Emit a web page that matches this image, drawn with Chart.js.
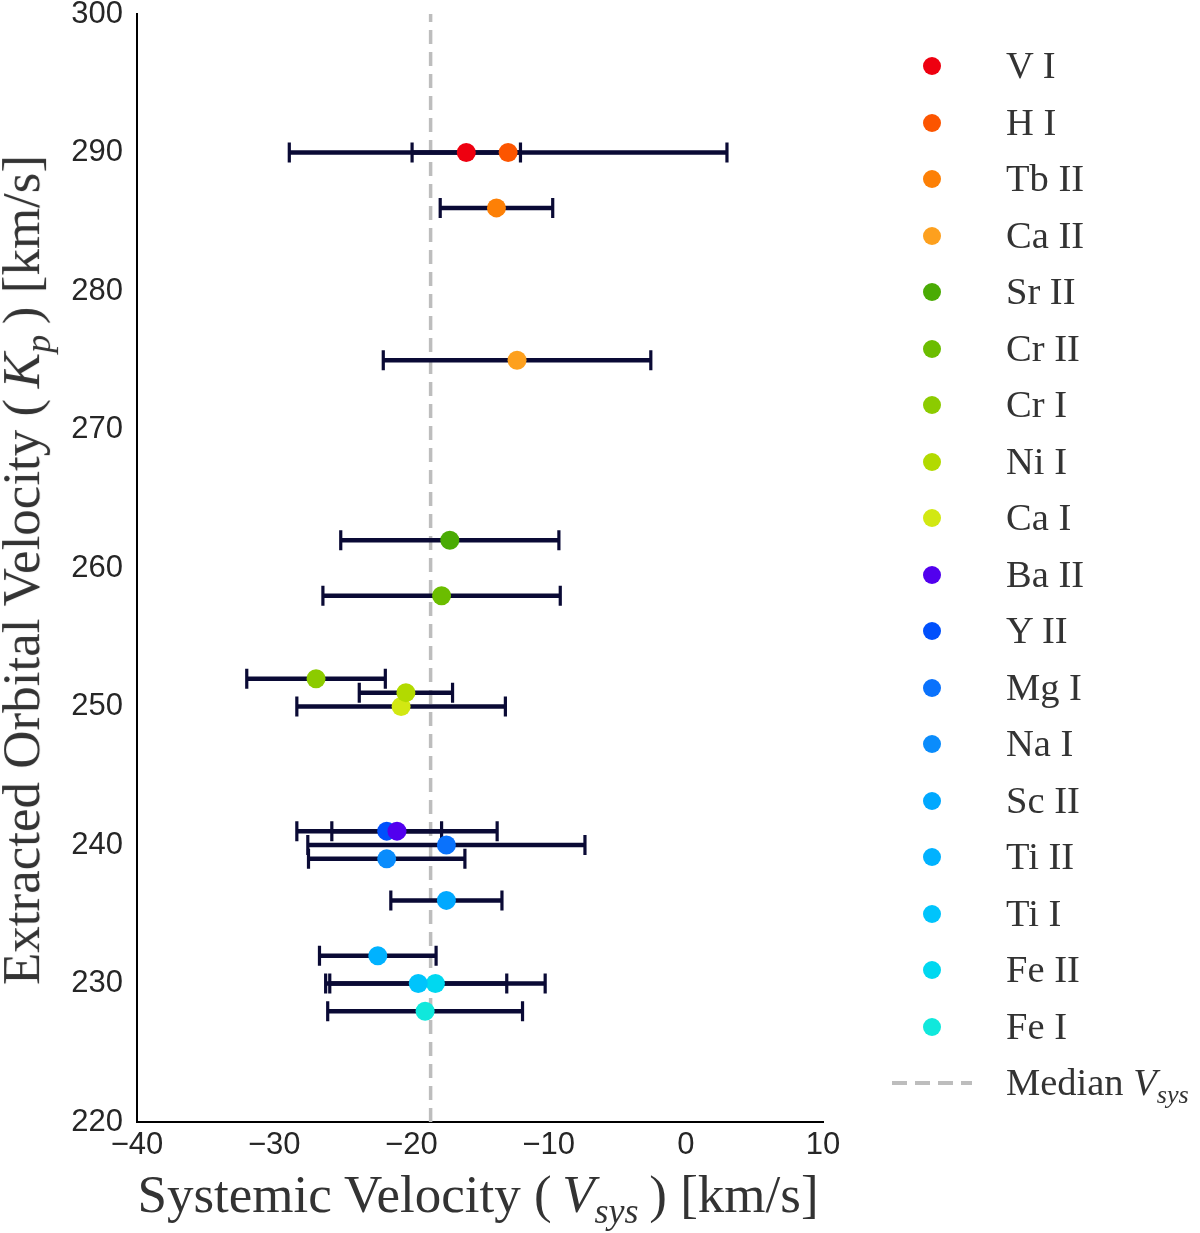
<!DOCTYPE html>
<html>
<head>
<meta charset="utf-8">
<script src="https://cdn.jsdelivr.net/npm/chart.js@4.4.0/dist/chart.umd.min.js"></script>
<style>
  body { margin: 0; background: #fff; }
  #wrap { position: relative; width: 1200px; height: 1233px; }
  .title { position: absolute; font-family: 'Liberation Serif', serif; font-size: 53px; color: #333; white-space: nowrap; }
  .title sub { font-size: 0.68em; font-style: italic; vertical-align: -0.3em; }
  #xtitle { left: 478px; top: 1198px; transform: translate(-50%, -50%); }
  #ytitle { left: 25px; top: 570px; transform: translate(-50%, -50%) rotate(-90deg); }
  #legend { position: absolute; left: 0; top: 0; font-family: 'Liberation Serif', serif; font-size: 38.5px; color: #333; }
  .item { position: absolute; height: 40px; display: flex; align-items: center; white-space: nowrap; }
  .dot { position: absolute; width: 18px; height: 18px; border-radius: 50%; left: -9px; top: 11px; }
  .dash { position: absolute; left: -40px; top: 18px; width: 80px; height: 4px;
          background: repeating-linear-gradient(90deg, #bdbdbd 0 15px, transparent 15px 23px); }
  .lbl { position: absolute; left: 74px; top: -3px; }
  .lbl sub { font-size: 0.68em; font-style: italic; vertical-align: -0.3em; }
</style>
</head>
<body>
<div id="wrap">
  <canvas id="chart"></canvas>
  <div class="title" id="xtitle">Systemic Velocity (&thinsp;<i>V</i><sub>sys</sub>&thinsp;) [km/s]</div>
  <div class="title" id="ytitle">Extracted Orbital Velocity (&thinsp;<i>K</i><sub>p</sub>&thinsp;) [km/s]</div>
  <div id="legend"></div>
</div>
<script>
const species = ['V I', 'H I', 'Tb II', 'Ca II', 'Sr II', 'Cr II', 'Cr I', 'Ni I', 'Ca I',
  'Ba II', 'Y II', 'Mg I', 'Na I', 'Sc II', 'Ti II', 'Ti I', 'Fe II', 'Fe I'];
const vsys = [-16.0, -12.95, -13.8, -12.3, -17.2, -17.8, -26.95, -20.4, -20.75,
  -21.05, -21.8, -17.45, -21.8, -17.45, -22.45, -19.5, -18.25, -19.0];
const vsysErr = [3.95, 15.95, 4.1, 9.75, 7.95, 8.65, 5.05, 3.4, 7.6,
  7.3, 4.0, 10.1, 5.7, 4.05, 4.25, 6.45, 8.0, 7.1];
const kp = [290, 290, 286, 275, 262, 258, 252, 251, 250,
  241, 241, 240, 239, 236, 232, 230, 230, 228];
const colors = ['#ee0010', '#fc5500', '#fd8006', '#fda01e', '#4aab04', '#6bbd00', '#8ccb00', '#b2da00', '#d2e812',
  '#5200ee', '#0050fc', '#0a72fc', '#0a8cfc', '#00a8ff', '#00b2ff', '#00c4fc', '#00d8f0', '#10e8dc'];
const medianVsys = -18.6;
const xTicks = [-40, -30, -20, -10, 0, 10];
const yTicks = [220, 230, 240, 250, 260, 270, 280, 290, 300];

const barColor = '#0a0a35';

// error bars are drawn right after the median line, before the markers
const errorBars = {
  id: 'errorBars',
  afterDatasetDraw(chart, args) {
    if (args.index !== species.length) return;
    const { ctx, scales: { x, y } } = chart;
    ctx.save();
    ctx.strokeStyle = barColor;
    species.forEach((s, i) => {
      const py = y.getPixelForValue(kp[i]);
      const x0 = x.getPixelForValue(vsys[i] - vsysErr[i]);
      const x1 = x.getPixelForValue(vsys[i] + vsysErr[i]);
      ctx.lineWidth = 4.5;
      ctx.beginPath();
      ctx.moveTo(x0, py);
      ctx.lineTo(x1, py);
      ctx.stroke();
      ctx.lineWidth = 3.2;
      ctx.beginPath();
      ctx.moveTo(x0, py - 10); ctx.lineTo(x0, py + 10);
      ctx.moveTo(x1, py - 10); ctx.lineTo(x1, py + 10);
      ctx.stroke();
    });
    ctx.restore();
  }
};

const datasets = species.map((s, i) => ({
  type: 'scatter',
  label: s,
  data: [{ x: vsys[i], y: kp[i] }],
  backgroundColor: colors[i],
  borderWidth: 0,
  pointRadius: 9.5,
  order: 1,
}));
datasets.push({
  type: 'line',
  label: 'Median Vsys',
  data: [{ x: medianVsys, y: 220 }, { x: medianVsys, y: 300 }],
  borderColor: '#bdbdbd',
  borderWidth: 3.5,
  borderDash: [14, 8],
  pointRadius: 0,
  order: 2,
});

const tickFont = { family: "'Liberation Sans', Arial, sans-serif", size: 31 };

new Chart(document.getElementById('chart'), {
  data: { datasets },
  options: {
    responsive: true,
    maintainAspectRatio: false,
    animation: false,
    layout: { padding: { top: 14, right: 377, left: 0, bottom: 0 } },
    plugins: { legend: { display: false }, tooltip: { enabled: false } },
    scales: {
      x: {
        type: 'linear', min: -40, max: 10,
        afterBuildTicks: a => { a.ticks = xTicks.map(v => ({ value: v })); },
        afterFit: a => { a.height = 111; a.paddingLeft = 0; a.paddingRight = 0; },
        grid: { display: false, drawTicks: false },
        border: { display: true, color: '#000', width: 2 },
        ticks: { font: tickFont, color: '#262626', padding: 5, maxRotation: 0,
          callback: v => String(v).replace('-', '\u2212') },
      },
      y: {
        type: 'linear', min: 220, max: 300,
        afterBuildTicks: a => { a.ticks = yTicks.map(v => ({ value: v })); },
        afterFit: a => { a.width = 137; a.paddingTop = 0; a.paddingBottom = 0; },
        grid: { display: false, drawTicks: false },
        border: { display: true, color: '#000', width: 2 },
        ticks: { font: tickFont, color: '#262626', padding: 14 },
      },
    },
  },
  plugins: [errorBars],
});

// legend
const legend = document.getElementById('legend');
species.forEach((s, i) => {
  const it = document.createElement('div');
  it.className = 'item';
  it.style.left = '932px';
  it.style.top = (46 + i * 56.5) + 'px';
  it.innerHTML = `<span class="dot" style="background:${colors[i]}"></span><span class="lbl">${s}</span>`;
  legend.appendChild(it);
});
const med = document.createElement('div');
med.className = 'item';
med.style.left = '932px';
med.style.top = (46 + species.length * 56.5) + 'px';
med.innerHTML = '<span class="dash"></span><span class="lbl">Median <i>V</i><sub>sys</sub></span>';
legend.appendChild(med);
</script>
</body>
</html>
